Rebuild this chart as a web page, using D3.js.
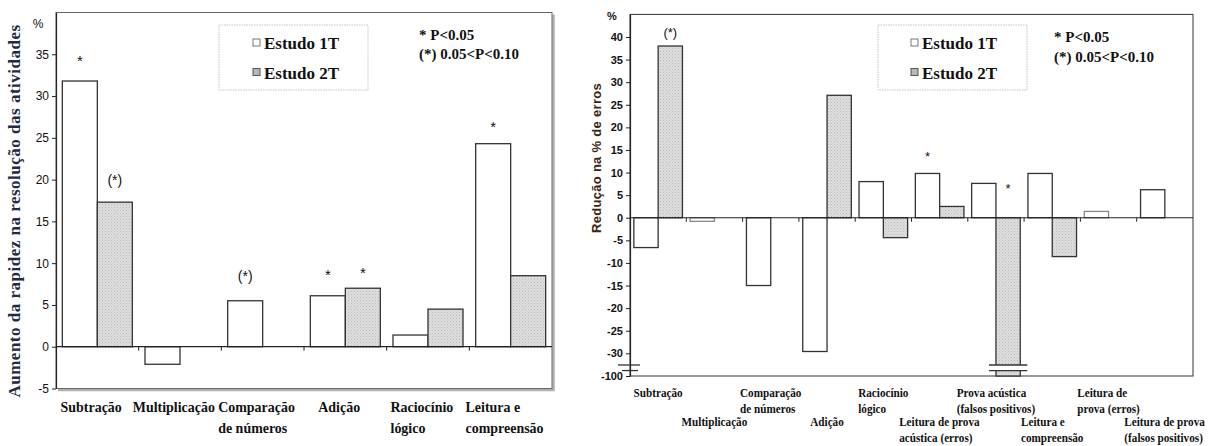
<!DOCTYPE html>
<html><head><meta charset="utf-8">
<script src="https://cdn.jsdelivr.net/npm/d3@7"></script>
<style>body{margin:0;background:#fff} svg{display:block}</style>
</head><body><svg id="c" width="1209" height="446"></svg>
<script>
// ---------------- DATA ----------------
const series = ["Estudo 1T", "Estudo 2T"];
const sigNotes = ["* P<0.05", "(*) 0.05<P<0.10"];

const leftCategories = ["Subtração", "Multiplicação", "Comparação\nde números", "Adição", "Raciocínio\nlógico", "Leitura e\ncompreensão"];
const leftValues1T = [31.8, -2.1, 5.5, 6.1, 1.4, 24.3];
const leftValues2T = [17.3, null, null, 7.0, 4.5, 8.5];
const leftTicks = [-5, 0, 5, 10, 15, 20, 25, 30, 35];
const leftMarkers = [
  {cat: 0, s: 0, sym: "*",   at: 34.5},
  {cat: 0, s: 1, sym: "(*)", at: 19.8},
  {cat: 2, s: 0, sym: "(*)", at: 8.4},
  {cat: 3, s: 0, sym: "*",   at: 8.9},
  {cat: 3, s: 1, sym: "*",   at: 9.2},
  {cat: 5, s: 0, sym: "*",   at: 26.6}
];
const leftTitle = "Aumento da rapidez na resolução das atividades";

const rightCategories = ["Subtração", "Multiplicação", "Comparação\nde números", "Adição", "Raciocínio\nlógico",
  "Leitura de prova\nacústica (erros)", "Prova acústica\n(falsos positivos)", "Leitura e\ncompreensão",
  "Leitura de\nprova (erros)", "Leitura de prova\n(falsos positivos)"];
const rightValues1T = [-6.6, -0.8, -15.0, -29.6, 8.0, 9.8, 7.6, 9.8, 1.4, 6.2];
const rightValues2T = [38.0, null, null, 27.1, -4.4, 2.5, -100, -8.6, null, null];
const rightTicks = [-100, -30, -25, -20, -15, -10, -5, 0, 5, 10, 15, 20, 25, 30, 35, 40];
const rightMarkers = [
  {cat: 0, s: 1, sym: "(*)", at: 40.9},
  {cat: 5, s: 0, sym: "*",   at: 14.0},
  {cat: 6, s: 1, sym: "*",   at: 6.9}
];
const rightTitle = "Redução na % de erros";

// ---------------- DRAW ----------------
const svg = d3.select("#c");
const defs = svg.append("defs");
const pat = defs.append("pattern").attr("id", "dots").attr("width", 3).attr("height", 3)
  .attr("patternUnits", "userSpaceOnUse");
pat.append("rect").attr("width", 3).attr("height", 3).attr("fill", "#dedede");
pat.append("rect").attr("width", 1).attr("height", 1).attr("fill", "#b9b9b9");
pat.append("rect").attr("x", 1.5).attr("y", 1.5).attr("width", 1).attr("height", 1).attr("fill", "#c8c8c8");

const SERIF = "'Liberation Serif','Times New Roman',serif";
const SANS = "'Liberation Sans',Arial,sans-serif";

function drawChart(cfg) {
  const g = svg.append("g");
  const {x0, x1, y, values, cats} = cfg;
  const [L, R] = x0.range();
  const [B, T] = [y.range()[0], y.range()[y.range().length - 1]];

  // frame
  if (cfg.shadow) {
    g.append("path").attr("d", `M${R + 1.5},${T + 2} V${B + 1.5} H${L + 2}`)
      .attr("fill", "none").attr("stroke", "#b0b0b0").attr("stroke-width", 2.5);
  }
  g.append("rect").attr("x", L).attr("y", T).attr("width", R - L).attr("height", B - T)
    .attr("fill", "none").attr("stroke", cfg.frameColor).attr("stroke-width", 1);

  // bars
  const rows = [];
  cats.forEach((c, i) => values.forEach((arr, s) => {
    if (arr[i] !== null) rows.push({i, s, v: arr[i]});
  }));
  g.selectAll("rect.bar").data(rows).join("rect").attr("class", "bar")
    .attr("x", d => x0(d.i) + x1(d.s))
    .attr("width", x1.bandwidth())
    .attr("y", d => y(Math.max(0, d.v)))
    .attr("height", d => Math.abs(y(d.v) - y(0)))
    .attr("fill", d => d.s === 0 ? "#fff" : "url(#dots)")
    .attr("stroke", d => (d.s === 0 && Math.abs(d.v) < 1.5 && cfg.lightSmall) ? "#888" : "#333")
    .attr("stroke-width", 1.3);

  // broken bars
  rows.filter(d => cfg.brk && d.v < cfg.brk.below).forEach(d => {
    const bx = x0(d.i) + x1(d.s), bw = x1.bandwidth();
    const [ya, yb] = cfg.brk.ys;
    g.append("rect").attr("x", bx - 1).attr("y", ya).attr("width", bw + 2).attr("height", yb - ya).attr("fill", "#fff");
    [ya, yb].forEach(yy => g.append("line").attr("x1", bx - 7).attr("x2", bx + bw + 7)
      .attr("y1", yy).attr("y2", yy).attr("stroke", "#333").attr("stroke-width", 1.3));
  });

  // zero line with boundary ticks
  g.append("line").attr("x1", L).attr("x2", R).attr("y1", y(0)).attr("y2", y(0))
    .attr("stroke", "#222").attr("stroke-width", 1.2);
  d3.range(1, cats.length).forEach(k => {
    const xx = x0(k);
    g.append("line").attr("x1", xx).attr("x2", xx).attr("y1", y(0)).attr("y2", y(0) + 4)
      .attr("stroke", "#222").attr("stroke-width", 1);
  });

  // y axis
  const ax = g.append("g").attr("transform", `translate(${L},0)`)
    .call(d3.axisLeft(y).tickValues(cfg.ticks).tickSize(4).tickSizeOuter(0).tickPadding(3)
      .tickFormat(d => String(d)));
  ax.select(".domain").attr("stroke", "#222").attr("stroke-width", 1.2);
  ax.selectAll(".tick line").attr("stroke", "#222");
  ax.selectAll(".tick text").attr("font-family", SANS).attr("font-size", cfg.tickSize)
    .attr("font-weight", cfg.tickWeight).attr("fill", "#111");
  g.append("text").attr("x", L - 18).attr("y", T + cfg.pctDy).attr("text-anchor", "middle")
    .attr("font-family", SANS).attr("font-size", cfg.tickSize).attr("font-weight", cfg.tickWeight)
    .attr("fill", "#111").text("%");

  // axis break marks
  if (cfg.brk) {
    const [ya, yb] = cfg.brk.ys;
    g.append("line").attr("x1", L - 12).attr("x2", L + 10).attr("y1", ya).attr("y2", ya).attr("stroke", "#333").attr("stroke-width", 1.3);
    g.append("line").attr("x1", L - 8).attr("x2", L + 8).attr("y1", yb).attr("y2", yb).attr("stroke", "#333").attr("stroke-width", 1.3);
  }

  // markers
  cfg.markers.forEach(m => {
    const cx = x0(m.cat) + x1(m.s) + x1.bandwidth() / 2;
    const fs = m.sym === "*" ? cfg.starSize : cfg.parSize;
    const dy = m.sym === "*" ? fs * 0.52 : fs * 0.3;
    g.append("text").attr("x", cx).attr("y", y(m.at) + dy).attr("text-anchor", "middle")
      .attr("font-family", SANS).attr("font-size", fs).attr("fill", "#111").text(m.sym);
  });

  // legend
  const lg = cfg.legend;
  g.append("rect").attr("x", lg.x).attr("y", lg.y).attr("width", lg.w).attr("height", lg.h)
    .attr("fill", "#fff").attr("stroke", "#c4c4c4").attr("stroke-width", 1).attr("stroke-dasharray", "1.5,1");
  series.forEach((s, k) => {
    const cy = lg.y + 18 + k * 29.5;
    g.append("rect").attr("x", lg.x + lg.sq).attr("y", cy - 4).attr("width", 7).attr("height", 7)
      .attr("fill", k === 0 ? "#fff" : "#b8b8b8").attr("stroke", k === 0 ? "#777" : "#555").attr("stroke-width", 1);
    g.append("text").attr("x", lg.x + lg.sq + 11).attr("y", cy + 6).attr("font-family", SERIF)
      .attr("font-weight", "bold").attr("font-size", 17).attr("fill", "#111").text(s);
  });
  sigNotes.forEach((t, k) => {
    g.append("text").attr("x", cfg.notes.x).attr("y", cfg.notes.y + k * cfg.notes.dy).attr("font-family", SERIF)
      .attr("font-weight", "bold").attr("font-size", 15).attr("fill", "#111").text(t);
  });

  // y title
  g.append("text").attr("transform", `translate(${cfg.title.x},${cfg.title.y}) rotate(-90)`)
    .attr("text-anchor", "middle").attr("dominant-baseline", "central")
    .attr("font-family", cfg.title.font).attr("font-weight", "bold").attr("font-size", cfg.title.size)
    .attr("letter-spacing", cfg.title.ls || 0).attr("fill", cfg.title.color).text(cfg.title.text);

  // category labels
  cats.forEach((c, i) => {
    const lines = c.split("\n");
    const row = cfg.stagger ? (i % 2) : 0;
    const gy = cfg.labelY + row * (cfg.staggerDy || 0);
    const lgp = g.append("g");
    const t = lgp.append("text").attr("font-family", SERIF).attr("font-weight", "bold")
      .attr("font-size", cfg.labelSize).attr("fill", "#111");
    lines.forEach((ln, k) => t.append("tspan").attr("x", 0).attr("y", k * cfg.lineH).text(ln));
    const w = t.node().getBBox().width * cfg.labelScale;
    const cx = x0(i) + x0.bandwidth() / 2 + cfg.labelShift;
    lgp.attr("transform", `translate(${cx - w / 2},${gy}) scale(${cfg.labelScale},1)`);
  });
}

// left chart scales
const xL0 = d3.scaleBand().domain(d3.range(leftCategories.length)).range([56, 552]);
const padL = (xL0.bandwidth() - 70) / 2;
const xL1 = d3.scaleBand().domain([0, 1]).range([padL, xL0.bandwidth() - padL]);
const yL = d3.scaleLinear().domain([-5, 40]).range([388.5, 12.5]);

drawChart({
  x0: xL0, x1: xL1, y: yL, values: [leftValues1T, leftValues2T], cats: leftCategories,
  ticks: leftTicks, tickSize: 12, tickWeight: "normal", pctDy: 15,
  frameColor: "#666", shadow: true,
  markers: leftMarkers, starSize: 15, parSize: 14,
  legend: {x: 219, y: 25, w: 149, h: 65, sq: 34},
  notes: {x: 419, y: 40, dy: 19},
  title: {x: 14, y: 211, text: leftTitle, font: SERIF, size: 17, color: "#1f2a44", ls: 0.5},
  labelY: 412, labelSize: 15.5, lineH: 21, labelScale: 0.9, labelShift: -6, stagger: false, staggerDy: 0
});

// right chart scales
const xR0 = d3.scaleBand().domain(d3.range(rightCategories.length)).range([630, 1193]);
const padR = (xR0.bandwidth() - 48.6) / 2;
const xR1 = d3.scaleBand().domain([0, 1]).range([padR, xR0.bandwidth() - padR]);
const yR = d3.scaleLinear().domain([-100, -30, 45]).range([376, 353.3, 14.4]);
const brkA = yR(-30) + 0.515 * (yR(-100) - yR(-30));
const brkB = yR(-30) + 0.76 * (yR(-100) - yR(-30));

drawChart({
  x0: xR0, x1: xR1, y: yR, values: [rightValues1T, rightValues2T], cats: rightCategories,
  ticks: rightTicks, tickSize: 11, tickWeight: "bold", pctDy: 6,
  frameColor: "#333", shadow: false, lightSmall: true,
  brk: {below: -30, ys: [brkA, brkB]},
  markers: rightMarkers, starSize: 13, parSize: 13,
  legend: {x: 878, y: 25, w: 149, h: 65, sq: 33},
  notes: {x: 1054, y: 42, dy: 20},
  title: {x: 596, y: 158, text: rightTitle, font: SANS, size: 13, color: "#3a2414", ls: 0.3},
  labelY: 397, labelSize: 13, lineH: 16.5, labelScale: 0.86, labelShift: 0, stagger: true, staggerDy: 29
});
</script></body></html>
